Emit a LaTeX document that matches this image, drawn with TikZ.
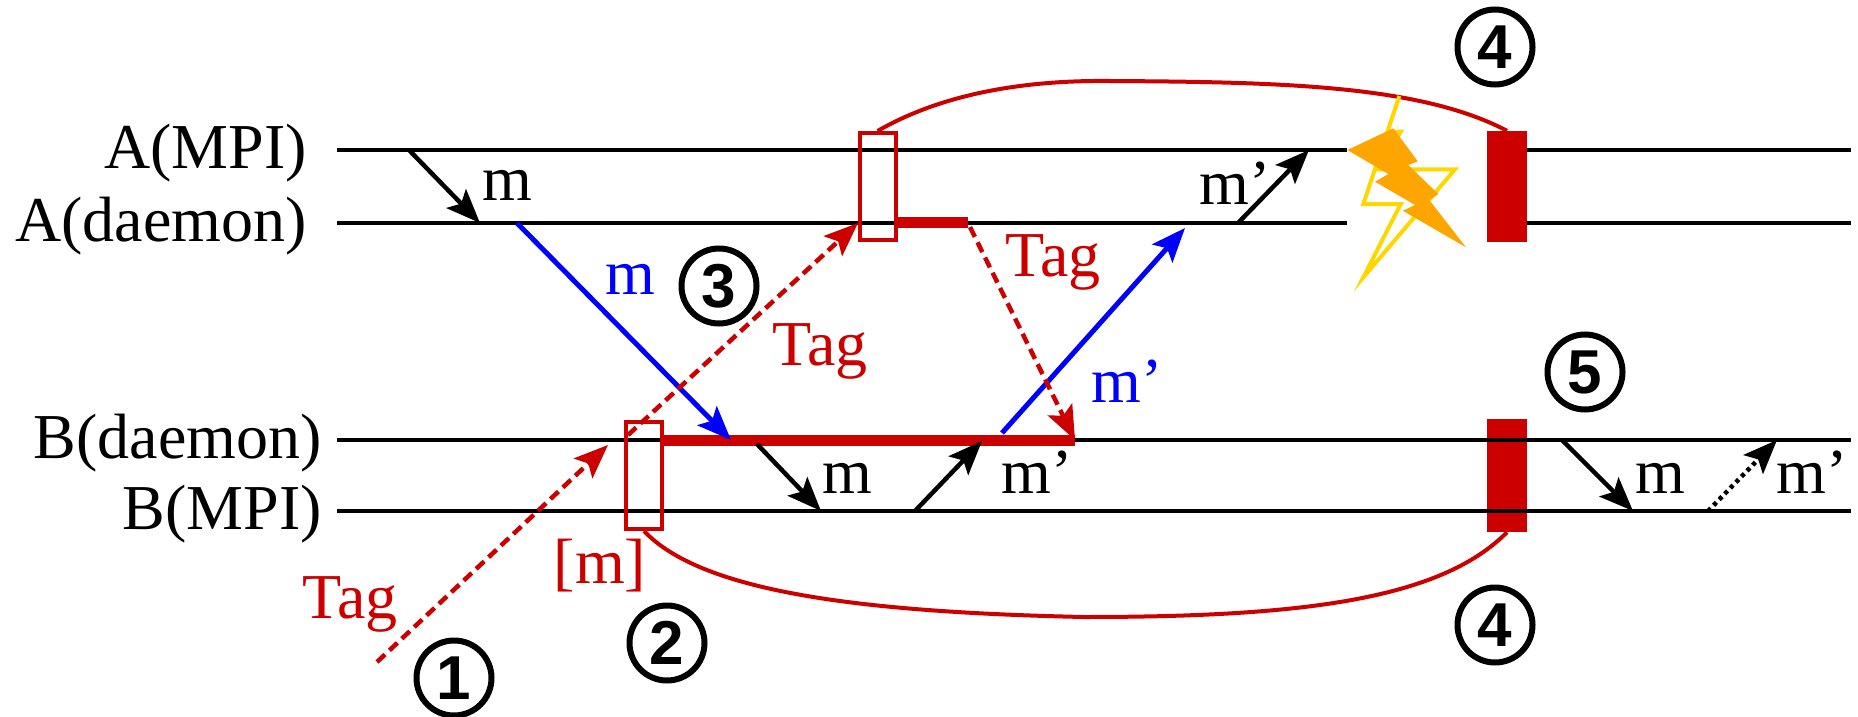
\documentclass[tikz,border=0pt]{standalone}
\usepackage{xcolor}
\usepackage{fontspec}
\setmainfont{Liberation Serif}
\setsansfont{Liberation Sans}
\usetikzlibrary{positioning,arrows.meta}
\definecolor{tagred}{RGB}{205,0,0}
\definecolor{msgblue}{RGB}{0,0,255}
\definecolor{boltorange}{RGB}{255,165,0}
\definecolor{boltgold}{RGB}{255,215,0}

\begin{document}
\begin{tikzpicture}[x=1pt, y=-1pt,
    lane/.style={draw=black, line width=4pt},
    txt/.style={anchor=base, inner sep=0pt, font=\fontsize{64}{70}\selectfont},
    lanename/.style={txt, anchor=base east},
    tagtxt/.style={txt, text=tagred},
    msgtxt/.style={txt, text=msgblue},
    num/.style={draw=black, circle, line width=6pt, minimum size=75pt, inner sep=0pt,
                font=\fontsize{62}{70}\selectfont\sffamily\bfseries},
    ckpt/.style={draw=tagred, line width=4pt, minimum width=36pt, minimum height=107pt, inner sep=0pt},
    barr/.style={fill=tagred, minimum width=40pt, inner sep=0pt},
    thick red/.style={draw=tagred, line width=11pt},
    sync/.style={draw=tagred, line width=4pt},
    msg/.style={draw=black, line width=4.5pt, -{Stealth[length=34pt,width=27pt,inset=7pt]}},
    bluemsg/.style={draw=msgblue, line width=5pt, -{Stealth[length=34pt,width=27pt,inset=7pt]}},
    tagmsg/.style={draw=tagred, line width=4.5pt, dash pattern=on 11pt off 6pt,
                   -{Stealth[length=34pt,width=27pt,inset=7pt]}}]
  \useasboundingbox (0,0) rectangle (1858,717);
  % lane names
  \node[lanename] (namea) at (307,168) {A(MPI)};
  \node[lanename] (named) at (307,241) {A(daemon)};
  \node[lanename] (nameb) at (322,458) {B(daemon)};
  \node[lanename] (namem) at (322,529) {B(MPI)};
  % end points of the lanes
  \coordinate (am0) at (337,150);
  \coordinate (am1) at (1347,150);
  \coordinate (am2) at (1527,150);
  \coordinate (am3) at (1851,150);
  \coordinate (ad0) at (337,223);
  \coordinate (ad1) at (1347,223);
  \coordinate (ad2) at (1527,223);
  \coordinate (ad3) at (1851,223);
  \coordinate (bd0) at (337,440);
  \coordinate (bd1) at (1851,440);
  \coordinate (bm0) at (337,511);
  \coordinate (bm1) at (1851,511);
  % bars
  \node[barr, minimum height=111pt] (bara) at (1507,186.5) {};
  \node[barr, minimum height=113pt] (barb) at (1507,475.5) {};
  \draw[lane] (am0) -- (am1);
  \draw[lane] (am2) -- (am3);
  \draw[lane] (ad0) -- (ad1);
  \draw[lane] (ad2) -- (ad3);
  \draw[lane] (bd0) -- (bd1);
  \draw[lane] (bm0) -- (bm1);
  % checkpoint boxes
  \node[ckpt] (ckpta) at (877.5,186.5) {};
  \node[ckpt] (ckptb) at (644,475.5) {};
  \coordinate (taga) at (968,222.5);
  \coordinate (tagb) at (1075,440);
  \draw[thick red] (ckpta.east) ++(0,36) -- (taga);
  \draw[thick red] (ckptb.east) ++(0,-35.5) -- (tagb);
  % sync curves
  \coordinate (tops) at (1110,81);
  \coordinate (bots) at (1084,617);
  \draw[sync] (ckpta.north) .. controls (940,95) and (1020,80) .. (tops)
     .. controls (1280,82) and (1420,85) .. (bara.north);
  \draw[sync] (ckptb.south) .. controls (700,590) and (850,612) .. (bots)
     .. controls (1300,617) and (1440,600) .. (barb.south);
  % messages
  \coordinate (m1a) at (409,150);
  \coordinate (m1b) at (480,223);
  \coordinate (m2a) at (517,223);
  \coordinate (m2b) at (731,440);
  \coordinate (m3a) at (757,444);
  \coordinate (m3b) at (821,511);
  \coordinate (m4a) at (915,511);
  \coordinate (m4b) at (982,441);
  \coordinate (m5a) at (1002,433);
  \coordinate (m5b) at (1185,228);
  \coordinate (m6a) at (1238,223);
  \coordinate (m6b) at (1309,150);
  \coordinate (m7a) at (1562,440);
  \coordinate (m7b) at (1633,511);
  \coordinate (m8a) at (1708,511);
  \coordinate (m8b) at (1777,440);
  \draw[msg] (m1a) -- (m1b);
  \draw[bluemsg] (m2a) -- (m2b);
  \draw[msg] (m3a) -- (m3b);
  \draw[msg] (m4a) -- (m4b);
  \draw[bluemsg] (m5a) -- (m5b);
  \draw[msg] (m6a) -- (m6b);
  \draw[msg] (m7a) -- (m7b);
  \draw[msg, dash pattern=on 4pt off 4pt] (m8a) -- (m8b);
  % tags
  \coordinate (t1a) at (377,662);
  \coordinate (t1b) at (608,445);
  \coordinate (t2a) at (628,435);
  \coordinate (t2b) at (858,223);
  \coordinate (t3a) at (970,227);
  \coordinate (t3b) at (1075,440);
  \draw[tagmsg] (t1a) -- (t1b);
  \draw[tagmsg] (t2a) -- (t2b);
  \draw[tagmsg] (t3a) -- (t3b);
  % failure
  \draw[draw=boltgold, line width=4pt] (1399.3,96) -- (1363.3,204) -- (1400.7,204) -- (1363.3,277.3)
     -- (1455,169.3) -- (1378.3,169.3) -- (1400.7,131.7) -- (1388.3,131.7);
  \fill[boltorange] (1347.3,150) -- (1393.3,128.3) -- (1417.7,161.3) -- (1408.3,165) -- (1438.3,194)
     -- (1429.3,200) -- (1466,247.3) -- (1402.7,210.7) -- (1415,205) -- (1375,181.7) -- (1388.3,174) -- cycle;
  % labels
  \node[txt] (lm1) at (507,200) {m};
  \node[msgtxt] (lm2) at (630,294) {m};
  \node[txt] (lm3) at (847,493) {m};
  \node[txt] (lm4) at (1037,493) {m'};
  \node[msgtxt] (lm5) at (1127,402) {m'};
  \node[txt] (lm6) at (1235,204) {m'};
  \node[txt] (lm7) at (1660,493) {m};
  \node[txt] (lm8) at (1812,493) {m'};
  \node[tagtxt] (lt1) at (350,618) {Tag};
  \node[tagtxt] (lt2) at (820,365) {Tag};
  \node[tagtxt] (lt3) at (1053,276) {Tag};
  \node[tagtxt] (lsave) at (600,583) {[m]};
  % numbers
  \node[num] (n1) at (454,678) {1};
  \node[num] (n2) at (667,643) {2};
  \node[num] (n3) at (719,286) {3};
  \node[num] (n4a) at (1495,47) {4};
  \node[num] (n4b) at (1495,625) {4};
  \node[num] (n5) at (1585,372) {5};
\end{tikzpicture}
\end{document}
